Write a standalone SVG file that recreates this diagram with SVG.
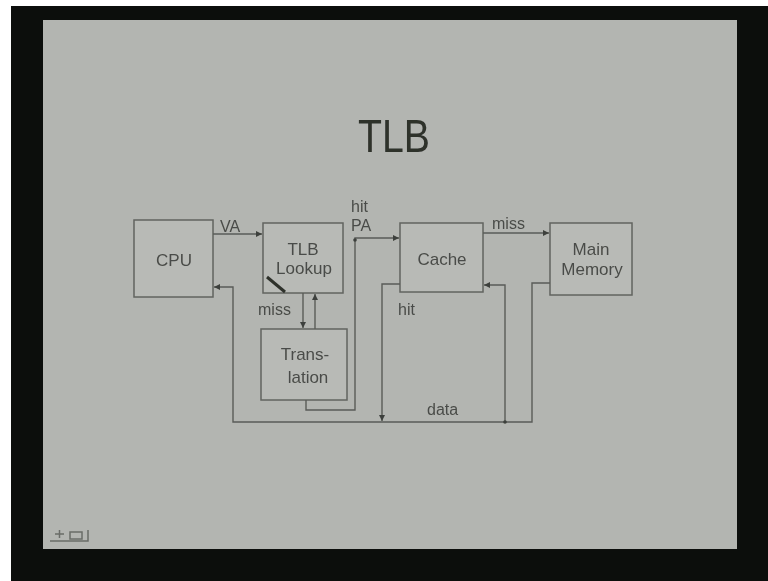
<svg xmlns="http://www.w3.org/2000/svg" width="768" height="581" viewBox="0 0 768 581">
<style>
.box{fill:#b8bab6;stroke:#62645f;stroke-width:1.5}
.lbl{font-family:"Liberation Sans",Arial,sans-serif;font-size:17px;fill:#4a4c48;text-anchor:middle}
.sm{font-family:"Liberation Sans",Arial,sans-serif;font-size:16px;fill:#4a4c48}
.ln{fill:none;stroke:#5a5c58;stroke-width:1.4}
</style>
<defs>
<marker id="ah" markerUnits="userSpaceOnUse" markerWidth="8" markerHeight="8" refX="6" refY="3" orient="auto">
<path d="M0,0 L6,3 L0,6 z" fill="#3e403c"/>
</marker>
<filter id="blur" x="-5%" y="-5%" width="110%" height="110%"><feGaussianBlur stdDeviation="0.5"/></filter>
</defs>
<rect x="0" y="0" width="768" height="581" fill="#ffffff"/>
<rect x="11" y="6" width="757" height="575" fill="#0c0e0c"/>
<rect x="43" y="20" width="694" height="529" fill="#b3b5b1"/>
<g filter="url(#blur)">
<text x="394" y="152" font-family="'Liberation Sans',Arial,sans-serif" font-size="47" fill="#2e302c" text-anchor="middle" textLength="72" lengthAdjust="spacingAndGlyphs">TLB</text>
<g id="cpu">
<rect class="box" x="134" y="220" width="79" height="77"/>
<text class="lbl" x="174" y="266" font-size="18">CPU</text>
</g>
<g id="tlb-lookup">
<rect class="box" x="263" y="223" width="80" height="70"/>
<text class="lbl" x="303" y="255">TLB</text>
<text class="lbl" x="304" y="274">Lookup</text>
<line x1="267" y1="277" x2="285" y2="292" stroke="#2e302c" stroke-width="3"/>
</g>
<g id="translation">
<rect class="box" x="261" y="329" width="86" height="71"/>
<text class="lbl" x="305" y="360">Trans-</text>
<text class="lbl" x="308" y="383">lation</text>
</g>
<g id="cache">
<rect class="box" x="400" y="223" width="83" height="69"/>
<text class="lbl" x="442" y="265">Cache</text>
</g>
<g id="main-memory">
<rect class="box" x="550" y="223" width="82" height="72"/>
<text class="lbl" x="591" y="255">Main</text>
<text class="lbl" x="592" y="275">Memory</text>
</g>
<g id="connectors">
<path class="ln" d="M213,234 H262" marker-end="url(#ah)"/>
<path class="ln" d="M303,293 V328" marker-end="url(#ah)"/>
<path class="ln" d="M315,329 V294" marker-end="url(#ah)"/>
<path class="ln" d="M306,400 V410 H355 V238 H399" marker-end="url(#ah)"/>
<circle cx="355" cy="240" r="1.8" fill="#3e403c"/>
<path class="ln" d="M483,233 H549" marker-end="url(#ah)"/>
<path class="ln" d="M550,283 H532 V422 H233 V287 H214" marker-end="url(#ah)"/>
<path class="ln" d="M505,422 V285 H484" marker-end="url(#ah)"/>
<circle cx="505" cy="422" r="1.8" fill="#3e403c"/>
<path class="ln" d="M400,284 H382 V421" marker-end="url(#ah)"/>
<text class="sm" x="220" y="232">VA</text>
<text class="sm" x="351" y="212">hit</text>
<text class="sm" x="351" y="231">PA</text>
<text class="sm" x="258" y="315">miss</text>
<text class="sm" x="492" y="229">miss</text>
<text class="sm" x="398" y="315">hit</text>
<text class="sm" x="427" y="415">data</text>
</g>
<g id="nav-icon" fill="none" stroke="#6a6c68" stroke-width="1.5">
<path d="M50,541 H88 V530"/>
<path d="M55,534 H64 M59.5,530 V538"/>
<rect x="70" y="532" width="12" height="7"/>
</g>
</g>
</svg>
